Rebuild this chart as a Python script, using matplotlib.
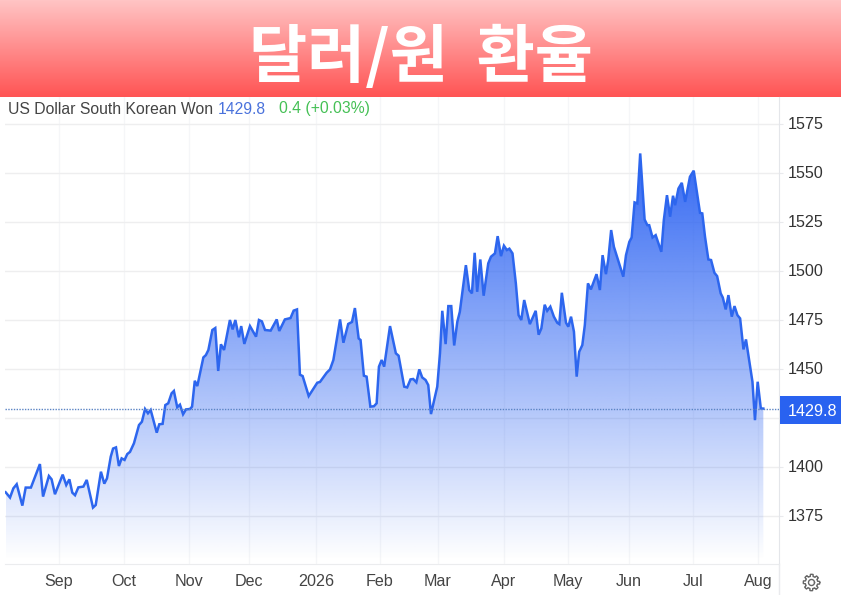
import numpy as np
import matplotlib
matplotlib.use('Agg')
import matplotlib.pyplot as plt
from matplotlib.patches import Polygon, Rectangle
from matplotlib.transforms import ScaledTranslation

# days since 2025-09-01 and the USD/KRW rate
days = [-25.5, -23.4, -21.8, -20.2, -17.5, -15.9, -13.4, -9.1, -7.6, -4.8, -3.5, -1.9,
        1.8, 3.5, 5, 6.4, 7.7, 9.3, 11.7, 13.3, 16.3, 17.6, 20.1, 21.7, 23, 24.8, 25.9, 27.3,
        28.7, 30, 31.4, 32.7, 34, 35.9, 38.3, 39.7, 41.2, 42.6, 43.9, 46.8, 48, 49.6, 50.9,
        52.3, 53.9, 55, 56.6, 57.9, 59.4, 60.8, 62.7, 63.7,
        65, 66.2, 69.1, 70.3, 71.5, 73.4, 74.8, 76.2, 77.5, 79, 81.8, 83.1, 84.4, 86.1, 87.2,
        88.7, 91.4, 94.3, 95.7, 97.1, 98.6, 101.3, 104.2, 105.4, 108.1, 110.8, 112.3, 113.9,
        115.3, 116.6, 119.5, 123.6, 124.9, 128.1, 129.7, 131.3, 134.5, 136.1, 138.4, 140.2,
        141.6, 143.4, 144.3, 145.9, 147.2, 149, 150.7, 152, 153.1,
        154.4, 155.6, 158.4, 161.2, 162.5, 165.2, 166.6, 168.2, 169.5, 171, 172.4, 173.8,
        175.4, 176.7, 178, 181, 182.3, 183.4, 185, 186.3, 187.7, 189.1, 190.6, 191.8, 194.7,
        196.3, 197.6, 198.9, 200.1, 201.6, 203.2, 205.4, 206.7, 208.6, 209.9, 211.5, 212.9,
        214.3, 215.5, 217, 218.6, 219.9, 221.2, 222.6, 225.3, 228.1, 229.5, 230.8, 232.4,
        233.6, 235.1, 236.8, 238.4, 239.4,
        240.6, 242.6, 243.7, 245, 246.4, 247.7, 248.9, 250.4, 251.6, 253.1, 254.5, 257.2,
        258.8, 260.1, 261.7, 262.8, 264.2, 265.5, 270, 271.3, 272.9, 274, 275.4, 276.7, 278.1,
        280.2, 281.5, 282.4, 284, 285.5, 288.2, 289.4, 290.9,
        292.4, 293.8, 294.8, 296.4, 298, 299.6, 301.9, 303.7, 306.7, 307.8, 309.1, 310.7, 312,
        313.6, 314.9, 316.6, 317.6, 319, 320.3, 321.9, 323.2, 324.6, 325.9, 327.5, 328.7,
        331.8, 333, 334.3, 335.8, 337]
rate = [1387.1, 1384.4, 1389.1, 1391.2, 1380.3, 1389.5, 1389.5, 1401.5, 1384.9, 1395.4, 1393.7, 1386.1,
        1396.1, 1390.8, 1393.7, 1386.9, 1385.6, 1389.6, 1390, 1393.4, 1379.3, 1380.6, 1397.6, 1391.5, 1394.2,
        1405.3, 1409.4, 1410, 1400.5, 1404.4, 1403.6, 1406.6, 1407.7, 1412.1, 1421.4, 1423.1, 1429.6, 1427.4,
        1429.1, 1417.5, 1421.8, 1422, 1431.6, 1432.5, 1437.6, 1438.8, 1430.5, 1431.8, 1426.9, 1429.4, 1429.6, 1430.8,
        1444, 1441.3, 1455.9, 1457.1, 1459.7, 1469.9, 1470.9, 1449, 1462.6, 1459.7, 1475, 1470.2, 1475, 1466.2,
        1471.9, 1462.8, 1471.9, 1466.5, 1475, 1474.3, 1469.9, 1469.6, 1475.3, 1469.4, 1475.3, 1476, 1479.8, 1480.4,
        1447.1, 1446.4, 1436.2, 1443, 1443.4, 1448.1, 1449.8, 1454.6, 1475.3, 1463.4, 1473, 1474,
        1481.1, 1465.6, 1464.8, 1446.6, 1446.1, 1430.8, 1431, 1432.5, 1451.2,
        1454.6, 1451.2, 1471.9, 1458, 1456.8, 1441, 1440.6, 1444.7, 1444.9, 1443.2, 1449.8, 1445.7,
        1444.4, 1441.8, 1427, 1441, 1458, 1479.7, 1462.7, 1482.1, 1482.1, 1462, 1474.1, 1479.2, 1503,
        1490.3, 1488.6, 1509.3, 1489.4, 1505.9, 1487.4, 1503.9, 1507.3, 1509, 1517.8, 1507.6, 1512.9,
        1510.7, 1511.4, 1509, 1493.7, 1477.5, 1475, 1485.2, 1472.9, 1479.7, 1467.5, 1470.7, 1482.8,
        1479.7, 1481.8, 1476.7, 1473.6, 1472.9,
        1488.9, 1473.6, 1471.6, 1476.7, 1469, 1446.1, 1458.8, 1462.2, 1472.4, 1493.7, 1490.6, 1498.4,
        1490.3, 1508.1, 1498.4, 1505.6, 1520.9, 1512.4, 1497.1, 1508.1, 1514.9, 1517.1, 1535, 1534.5, 1560,
        1526.3, 1523.4, 1523.4, 1517.1, 1518.3, 1509.8, 1526, 1538.7,
        1527.7, 1538.4, 1533.6, 1542.1, 1545, 1535.3, 1548.1, 1551.2, 1529.7, 1529.4, 1517.5, 1505.9, 1505.6,
        1499.1, 1497.4, 1488.6, 1486.5, 1480.4, 1487.7, 1476.7, 1482.1, 1477.5, 1475.8, 1460, 1465.1,
        1443.5, 1423.9, 1443.5, 1429.9, 1429.8]

month_labels = ['Sep', 'Oct', 'Nov', 'Dec', '2026', 'Feb', 'Mar', 'Apr', 'May', 'Jun', 'Jul', 'Aug']
month_days = [0, 31.1, 62.2, 90.9, 123, 153.6, 181.3, 212.9, 243.5, 272.7, 303.3, 334.4]
y_ticks = [1375, 1400, 1425, 1450, 1475, 1500, 1525, 1550, 1575]
y_labels = ['1375', '1400', '', '1450', '1475', '1500', '1525', '1550', '1575']
last_price = 1429.8

W, H = 841, 595
BLUE = '#2d66ee'
plt.rcParams['font.family'] = ['Liberation Sans', 'DejaVu Sans']

fig = plt.figure(figsize=(W / 100, H / 100), dpi=100)

# red banner
banner = fig.add_axes([0, 1 - 97 / H, 1, 97 / H])
top_c = np.array([255, 196, 196]) / 255
bot_c = np.array([255, 84, 84]) / 255
t = np.linspace(0, 1, 97)[:, None, None]
banner.imshow(top_c + (bot_c - top_c) * t, aspect='auto', extent=[0, 1, 0, 1])
banner.axis('off')
banner.text(0.5, 0.40, '달러/원  환율', color='white', fontsize=45.5, fontweight='bold',
            family=['Noto Sans CJK KR', 'DejaVu Sans'], ha='center', va='center',
            transform=banner.transAxes)

# chart
ax = fig.add_axes([5 / W, 1 - 564 / H, 774 / W, 467 / H])
ax.set_xlim(-25.8, 344.5)
ax.set_ylim(1350.5, 1588.8)
ax.set_axisbelow(True)

grad = np.zeros((256, 2, 4))
grad[..., 0] = 40 / 255
grad[..., 1] = 96 / 255
grad[..., 2] = 242 / 255
grad[..., 3] = np.linspace(0.95, 0, 256)[:, None]
img = ax.imshow(grad, aspect='auto', extent=[days[0], days[-1], 1352, 1560], origin='upper', zorder=2)
clip = Polygon(list(zip(days, rate)) + [(days[-1], 1352), (days[0], 1352)], closed=True,
               transform=ax.transData, fc='none', ec='none')
ax.add_patch(clip)
img.set_clip_path(clip)
ax.set_xlim(-25.8, 344.5)
ax.set_ylim(1350.5, 1588.8)

ax.plot(days, rate, color=BLUE, lw=1.8, zorder=3, solid_joinstyle='miter')
ax.axhline(last_price, color='#5b84c4', lw=1, ls=(0, (1, 1)), zorder=4)

ax.set_yticks(y_ticks)
ax.set_yticklabels(y_labels)
ax.yaxis.tick_right()
ax.set_xticks(month_days)
ax.set_xticklabels(month_labels)
ax.grid(True, axis='y', color='#eeeeef', lw=1)
ax.grid(True, axis='x', color='#f5f6f8', lw=1)
ax.tick_params(axis='y', length=3, color='#e9eaed', pad=3, labelsize=11.6, labelcolor='#333333')
ax.tick_params(axis='x', length=0, pad=7.5, labelsize=11.6, labelcolor='#444444')
up_1px = ScaledTranslation(0, 1 / 100, fig.dpi_scale_trans)
for lab in ax.get_yticklabels():
    lab.set_transform(lab.get_transform() + up_1px)
for side in ['top', 'left']:
    ax.spines[side].set_visible(False)
ax.spines['right'].set_color('#e4e6ea')
ax.spines['bottom'].set_color('#ebecee')

# header line
hdr_y = 1 - 109 / H
fig.text(8 / W, hdr_y, 'US Dollar South Korean Won', fontsize=11.3, color='#444444', va='center')
fig.text(218 / W, hdr_y, f'{last_price}', fontsize=11.3, color='#4a72dc', va='center')
fig.text(279 / W, hdr_y, '0.4 (+0.03%)', fontsize=11.3, color='#45c055', va='center')

# price tag and the lines below the axis
fig.add_artist(Rectangle((780 / W, 1 - 424 / H), 61 / W, 28 / H, transform=fig.transFigure,
                         fc='#2962f0', ec='none'))
fig.text(813 / W, 1 - 411.5 / H, f'{last_price}', fontsize=11.6, color='white', ha='center', va='center')
fig.add_artist(plt.Line2D([779 / W, 779 / W], [0, 1 - 564 / H], color='#e9eaed', lw=1))

# settings gear
ang = np.linspace(0, 2 * np.pi, 97)
rad = 6.2 + 2.0 * (np.cos(8 * ang) > 0)
gx = (811.5 + rad * np.cos(ang)) / W
gy = 1 - (582.5 + rad * np.sin(ang)) / H
fig.add_artist(plt.Line2D(gx, gy, color='#666666', lw=1))
hx = (811.5 + 3 * np.cos(ang)) / W
hy = 1 - (582.5 + 3 * np.sin(ang)) / H
fig.add_artist(plt.Line2D(hx, hy, color='#666666', lw=1))

fig.savefig('out.png', dpi=100)
